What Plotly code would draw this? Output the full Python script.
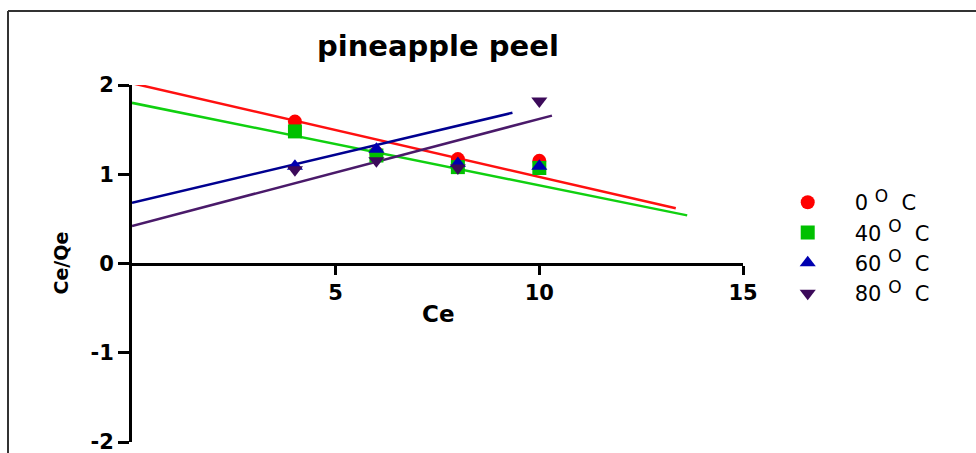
import numpy as np
import plotly.graph_objects as go

# Ce values (x) and Ce/Qe values (y) for each temperature
ce = [4, 6, 8, 10]
ratio_0c = [1.59, 1.24, 1.17, 1.15]
ratio_40c = [1.48, 1.21, 1.08, 1.07]
ratio_60c = [1.09, 1.28, 1.12, 1.09]
ratio_80c = [1.05, 1.15, 1.07, 1.82]

# linear fit lines: intercept, slope, and the Ce where each line stops
fit_intercept = [2.02, 1.80, 0.68, 0.42]
fit_slope = [-0.105, -0.0925, 0.108, 0.120]
fit_xmax = [13.35, 13.63, 9.34, 10.31]

# axis ticks
x_tickvals = [5, 10, 15]
y_tickvals = [-2, -1, 0, 1, 2]
y_ticktext = ["-2", "-1", "0", "1", "2"]

temperatures = ["0", "40", "60", "80"]
series_names = [f"{t} <sup><span style='font-size:17px'>O</span></sup>&nbsp; C"
                for t in temperatures]
series_values = [ratio_0c, ratio_40c, ratio_60c, ratio_80c]
marker_colors = ["#ff0000", "#00c000", "#0000b0", "#3c0a5a"]
line_colors = ["#ff1010", "#10d010", "#000090", "#4a1a6a"]
symbols = ["circle", "square", "triangle-up", "triangle-down"]

FONT = "DejaVu Sans, Verdana, sans-serif"

fig = go.Figure()

# fitted lines first so markers sit on top
for i in range(4):
    xs = np.array([0.0, fit_xmax[i]])
    ys = fit_intercept[i] + fit_slope[i] * xs
    fig.add_trace(go.Scatter(
        x=xs, y=ys, mode="lines",
        line=dict(color=line_colors[i], width=2.5),
        showlegend=False, cliponaxis=False, hoverinfo="skip",
    ))

for i in range(4):
    fig.add_trace(go.Scatter(
        x=ce, y=series_values[i], mode="markers", name=series_names[i],
        marker=dict(symbol=symbols[i], size=14, color=marker_colors[i],
                    line=dict(width=0)),
        cliponaxis=False,
    ))

fig.update_layout(
    width=976, height=453,
    margin=dict(l=132, r=233, t=85, b=11),
    paper_bgcolor="white", plot_bgcolor="white",
    font=dict(family=FONT, color="black"),
    xaxis=dict(
        range=[0, 15], tickvals=x_tickvals,
        showgrid=False, zeroline=False, automargin=False,
        showline=True, linecolor="black", linewidth=3,
        ticks="outside", ticklen=9, tickwidth=3, tickcolor="black",
        tickfont=dict(size=21, family=FONT, weight="bold"),
        anchor="free", position=0.5, ticklabeloverflow="allow",
    ),
    yaxis=dict(
        range=[-2, 2], tickvals=y_tickvals, ticktext=y_ticktext,
        showgrid=False, zeroline=False, automargin=False,
        showline=True, linecolor="black", linewidth=3,
        ticks="outside", ticklen=11, tickwidth=3, tickcolor="black",
        tickfont=dict(size=21, family=FONT, weight="bold"),
        ticklabeloverflow="allow",
    ),
    legend=dict(
        x=1.029, y=0.728, xanchor="left", yanchor="top",
        font=dict(size=21, family=FONT),
        itemwidth=84, tracegroupgap=0,
        bgcolor="rgba(0,0,0,0)",
    ),
    showlegend=True,
)

# title and axis titles
fig.add_annotation(text="<b>pineapple peel</b>", xref="paper", yref="paper",
                   x=0.5, y=1.0, yshift=39, xanchor="center", yanchor="middle",
                   showarrow=False, font=dict(size=29, family=FONT))
fig.add_annotation(text="<b>Ce</b>", xref="paper", yref="paper",
                   x=0.5, y=0.5, yshift=-50, xanchor="center", yanchor="middle",
                   showarrow=False, font=dict(size=23, family=FONT))
fig.add_annotation(text="<b>Ce/Qe</b>", xref="paper", yref="paper",
                   x=0, xshift=-72, y=0.5, xanchor="center", yanchor="middle",
                   showarrow=False, textangle=-90, font=dict(size=19, family=FONT))

# outer frame lines (top and left edges)
fig.add_shape(type="line", xref="paper", yref="paper",
              x0=(8 - 132) / 611, x1=(976 - 132) / 611,
              y0=(442 - 11) / 357, y1=(442 - 11) / 357,
              line=dict(color="#333333", width=2))
fig.add_shape(type="line", xref="paper", yref="paper",
              x0=(8 - 132) / 611, x1=(8 - 132) / 611,
              y0=(442 - 11) / 357, y1=(442 - 460) / 357,
              line=dict(color="#333333", width=2))

fig.write_html("out.html")
